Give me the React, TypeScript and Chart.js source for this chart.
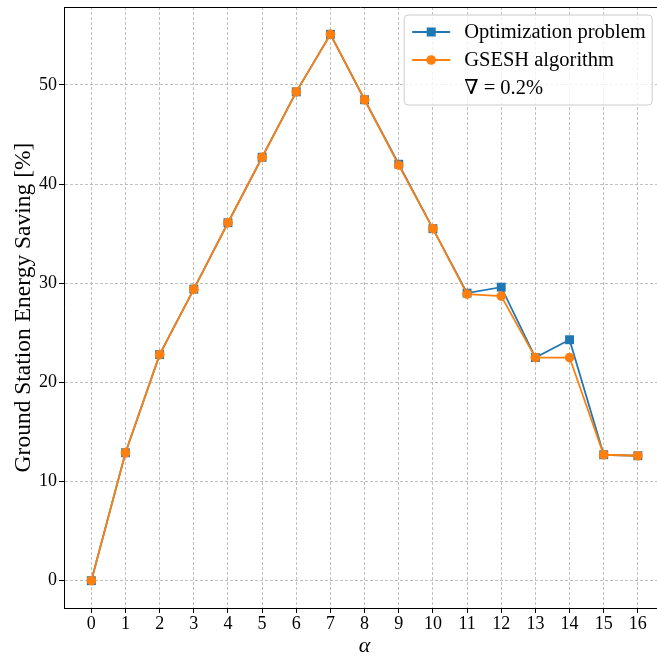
import React, { useEffect, useRef } from "react";
import { Chart, registerables } from "chart.js";

Chart.register(...registerables);

const alphaValues = [0, 1, 2, 3, 4, 5, 6, 7, 8, 9, 10, 11, 12, 13, 14, 15, 16];
const optimizationProblem = [0, 12.9, 22.8, 29.4, 36.1, 42.7, 49.3, 55.1, 48.5, 42.0, 35.5, 29.0, 29.6, 22.5, 24.3, 12.7, 12.6];
const gseshAlgorithm = [0, 12.9, 22.8, 29.4, 36.1, 42.7, 49.3, 55.1, 48.5, 41.9, 35.5, 28.9, 28.7, 22.5, 22.5, 12.7, 12.6];
const seriesNames = ["Optimization problem", "GSESH algorithm"];
const noteText = "∇ = 0.2%";
const xTitle = "α";
const yTitle = "Ground Station Energy Saving [%]";

const BLUE = "#1f77b4";
const ORANGE = "#ff7f0e";
const FONT = "'Liberation Serif', 'DejaVu Serif', serif";

const allVals = [...optimizationProblem, ...gseshAlgorithm];
const yDataMin = Math.min(...allVals);
const yDataMax = Math.max(...allVals);
const yMargin = (yDataMax - yDataMin) * 0.05;
const xMargin = (alphaValues[alphaValues.length - 1] - alphaValues[0]) * 0.05;
// the reference figure is cropped on the right: the visible x range ends at ~16.56
const xVisibleMax = 16.56;

const boxLegend = {
  id: "boxLegend",
  afterDraw(chart: any) {
    const { ctx, chartArea } = chart;
    const fullRight = chart.scales.x.getPixelForValue(alphaValues[alphaValues.length - 1] + xMargin);
    ctx.save();
    ctx.strokeStyle = "#000";
    ctx.lineWidth = 1;
    ctx.beginPath();
    ctx.moveTo(chartArea.left, chartArea.top + 0.5);
    ctx.lineTo(chartArea.right, chartArea.top + 0.5);
    ctx.stroke();

    const boxW = 248;
    const boxH = 90;
    const bx = fullRight - 13 - boxW;
    const by = chartArea.top + 8;
    const r = 4;
    ctx.beginPath();
    ctx.moveTo(bx + r, by);
    ctx.lineTo(bx + boxW - r, by);
    ctx.quadraticCurveTo(bx + boxW, by, bx + boxW, by + r);
    ctx.lineTo(bx + boxW, by + boxH - r);
    ctx.quadraticCurveTo(bx + boxW, by + boxH, bx + boxW - r, by + boxH);
    ctx.lineTo(bx + r, by + boxH);
    ctx.quadraticCurveTo(bx, by + boxH, bx, by + boxH - r);
    ctx.lineTo(bx, by + r);
    ctx.quadraticCurveTo(bx, by, bx + r, by);
    ctx.closePath();
    ctx.fillStyle = "rgba(255,255,255,0.8)";
    ctx.fill();
    ctx.strokeStyle = "#cccccc";
    ctx.lineWidth = 1;
    ctx.stroke();

    const hx1 = bx + 8;
    const hx2 = bx + 46;
    const hmid = (hx1 + hx2) / 2;
    const tx = bx + 60;
    const rows = [by + 17, by + 45, by + 73];
    ctx.font = `20.5px ${FONT}`;
    ctx.textBaseline = "middle";
    ctx.textAlign = "left";
    const colors = [BLUE, ORANGE];
    for (let i = 0; i < 2; i++) {
      const y = rows[i];
      ctx.strokeStyle = colors[i];
      ctx.lineWidth = 1.8;
      ctx.beginPath();
      ctx.moveTo(hx1, y);
      ctx.lineTo(hx2, y);
      ctx.stroke();
      ctx.fillStyle = colors[i];
      ctx.beginPath();
      if (i === 0) {
        ctx.rect(hmid - 4.5, y - 4.5, 9, 9);
      } else {
        ctx.arc(hmid, y, 4.8, 0, Math.PI * 2);
      }
      ctx.fill();
      ctx.fillStyle = "#000";
      ctx.fillText(seriesNames[i], tx, y + 1);
    }
    ctx.fillStyle = "#000";
    ctx.fillText(noteText, tx, rows[2] + 1);

    // x-axis title centred on the full (uncropped) axes
    ctx.font = `italic 22px ${FONT}`;
    ctx.textAlign = "center";
    ctx.textBaseline = "middle";
    ctx.fillText(xTitle, (chartArea.left + fullRight) / 2, chartArea.bottom + 38);
    ctx.restore();
  },
};

export default function App() {
  const canvasRef = useRef<HTMLCanvasElement | null>(null);

  useEffect(() => {
    document.body.style.margin = "0";
    const canvas = canvasRef.current;
    if (!canvas) return;
    Chart.defaults.font.family = FONT;
    Chart.defaults.color = "#000";

    const gridCommon = {
      color: "#b0b0b0",
      lineWidth: 0.8,
      tickColor: "#000",
      tickLength: 5,
      tickWidth: 1,
      tickBorderDash: [],
      drawTicks: true,
    };

    const chart = new Chart(canvas, {
      type: "line",
      data: {
        datasets: [
          {
            label: seriesNames[0],
            data: alphaValues.map((a, i) => ({ x: a, y: optimizationProblem[i] })),
            borderColor: BLUE,
            backgroundColor: BLUE,
            pointBackgroundColor: BLUE,
            pointBorderColor: BLUE,
            pointStyle: "rect",
            pointRadius: 6.3,
            pointBorderWidth: 0,
            borderWidth: 1.8,
            tension: 0,
            order: 1,
          },
          {
            label: seriesNames[1],
            data: alphaValues.map((a, i) => ({ x: a, y: gseshAlgorithm[i] })),
            borderColor: ORANGE,
            backgroundColor: ORANGE,
            pointBackgroundColor: ORANGE,
            pointBorderColor: ORANGE,
            pointStyle: "circle",
            pointRadius: 4.8,
            pointBorderWidth: 0,
            borderWidth: 1.8,
            tension: 0,
            order: 0,
          },
        ],
      },
      options: {
        animation: false,
        responsive: false,
        maintainAspectRatio: false,
        layout: { autoPadding: false, padding: { top: 7, right: 0, left: 0, bottom: 0 } },
        plugins: {
          legend: { display: false },
          tooltip: { enabled: false },
        },
        scales: {
          x: {
            type: "linear",
            min: alphaValues[0] - xMargin,
            max: xVisibleMax,
            grid: gridCommon,
            border: { display: true, color: "#000", width: 1, dash: [3, 2] },
            ticks: {
              stepSize: 1,
              includeBounds: false,
              autoSkip: false,
              maxRotation: 0,
              padding: 0,
              font: { size: 18, family: FONT },
              color: "#000",
              callback: (v: any) => String(v),
            },
            title: { display: false },
            afterFit: (scale: any) => {
              scale.height = 49;
              scale.paddingLeft = 0;
              scale.paddingRight = 0;
            },
          },
          y: {
            type: "linear",
            min: yDataMin - yMargin,
            max: yDataMax + yMargin,
            grid: gridCommon,
            border: { display: true, color: "#000", width: 1, dash: [3, 2] },
            ticks: {
              stepSize: 10,
              includeBounds: false,
              padding: 2,
              font: { size: 18, family: FONT },
              color: "#000",
              callback: (v: any) => String(v),
            },
            title: {
              display: true,
              text: yTitle,
              font: { size: 23.5, family: FONT, lineHeight: 1.2 },
              padding: { top: 10, bottom: 0 },
              color: "#000",
            },
            afterFit: (scale: any) => {
              scale.width = 64;
              scale.paddingTop = 0;
              scale.paddingBottom = 0;
            },
          },
        },
      },
      plugins: [boxLegend],
    });
    return () => chart.destroy();
  }, []);

  return (
    <div style={{ width: 657, height: 657, overflow: "hidden", position: "relative", background: "#fff" }}>
      <canvas ref={canvasRef} width={657} height={657} style={{ width: 657, height: 657, display: "block" }} />
    </div>
  );
}
